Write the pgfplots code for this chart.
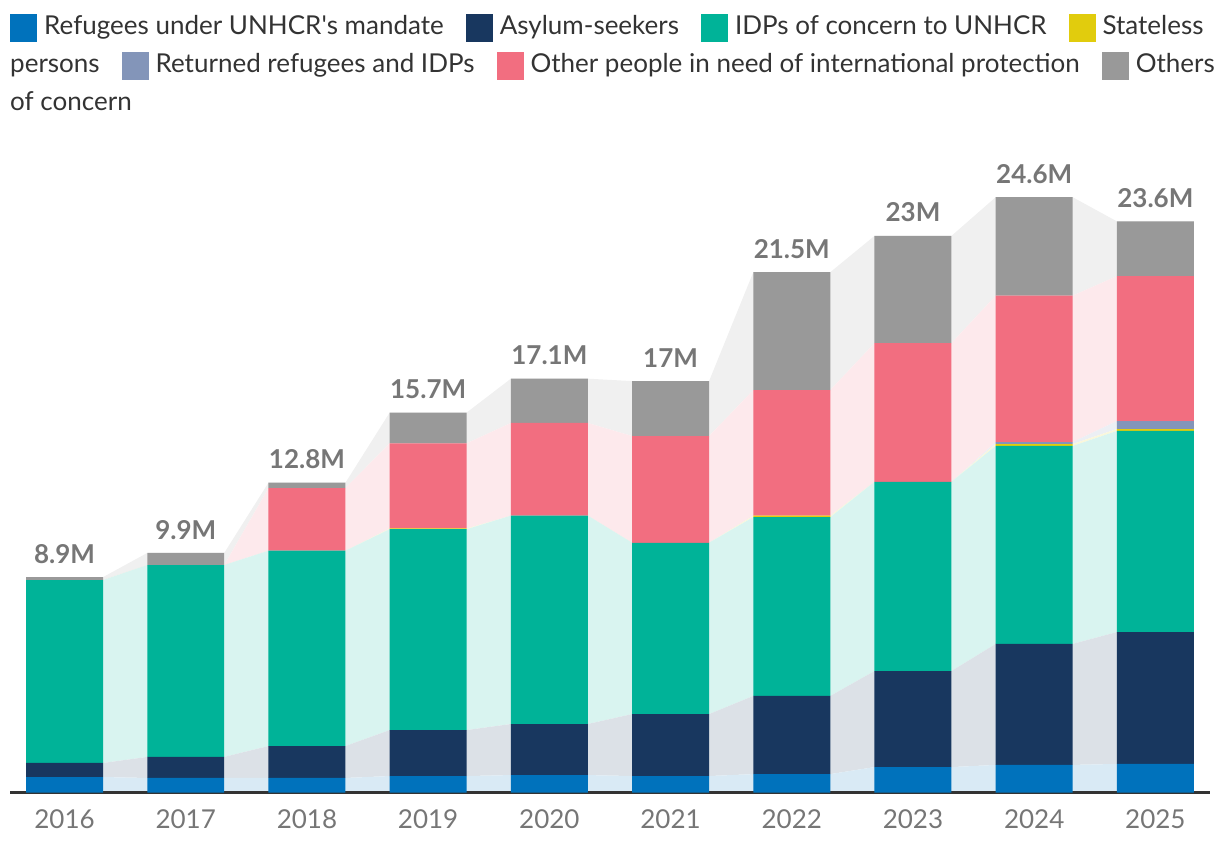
\documentclass[border=0pt]{standalone}
\usepackage{pgfplots}
\pgfplotsset{compat=1.18}
\usepackage{pgfplotstable}
\usepackage{fontspec}
\setmainfont{Lato}

\definecolor{cref}{HTML}{0072BC}
\definecolor{casy}{HTML}{18375F}
\definecolor{cidp}{HTML}{00B398}
\definecolor{csta}{HTML}{E1CC0D}
\definecolor{cret}{HTML}{8395B9}
\definecolor{cpip}{HTML}{F26E80}
\definecolor{coth}{HTML}{999999}
\definecolor{ctxt}{HTML}{333333}
\definecolor{clab}{HTML}{767676}

% one row per year (bars)
\pgfplotstableread{
x ref  asy  idp  sta  ret  pip  oth  tot  lab
0 0.64 0.58 7.56 0    0    0    0.12 8.9  8.9M
1 0.60 0.87 7.93 0    0    0    0.50 9.9  9.9M
2 0.60 1.32 8.07 0    0    2.59 0.22 12.8 12.8M
3 0.68 1.90 8.30 0.03 0    3.52 1.27 15.7 15.7M
4 0.72 2.11 8.61 0    0    3.83 1.83 17.1 17.1M
5 0.68 2.56 7.08 0    0    4.41 2.27 17.0 17M
6 0.76 3.23 7.39 0.06 0    5.19 4.87 21.5 21.5M
7 1.05 3.97 7.82 0    0    5.73 4.43 23.0 23M
8 1.14 5.00 8.18 0.08 0.08 6.05 4.07 24.6 24.6M
9 1.18 5.45 8.31 0.08 0.33 5.99 2.26 23.6 23.6M
}\bars

% the same values at the left and right edge of each bar (flows between bars)
\pgfplotstableread{
x       ref  asy  idp  sta  ret  pip  oth
-0.3175 0.64 0.58 7.56 0    0    0    0.12
0.3175  0.64 0.58 7.56 0    0    0    0.12
0.6825  0.60 0.87 7.93 0    0    0    0.50
1.3175  0.60 0.87 7.93 0    0    0    0.50
1.6825  0.60 1.32 8.07 0    0    2.59 0.22
2.3175  0.60 1.32 8.07 0    0    2.59 0.22
2.6825  0.68 1.90 8.30 0.03 0    3.52 1.27
3.3175  0.68 1.90 8.30 0.03 0    3.52 1.27
3.6825  0.72 2.11 8.61 0    0    3.83 1.83
4.3175  0.72 2.11 8.61 0    0    3.83 1.83
4.6825  0.68 2.56 7.08 0    0    4.41 2.27
5.3175  0.68 2.56 7.08 0    0    4.41 2.27
5.6825  0.76 3.23 7.39 0.06 0    5.19 4.87
6.3175  0.76 3.23 7.39 0.06 0    5.19 4.87
6.6825  1.05 3.97 7.82 0    0    5.73 4.43
7.3175  1.05 3.97 7.82 0    0    5.73 4.43
7.6825  1.14 5.00 8.18 0.08 0.08 6.05 4.07
8.3175  1.14 5.00 8.18 0.08 0.08 6.05 4.07
8.6825  1.18 5.45 8.31 0.08 0.33 5.99 2.26
9.3175  1.18 5.45 8.31 0.08 0.33 5.99 2.26
}\flows

\pgfplotsset{
  base/.style={
    scale only axis, width=1200bp, height=629.2bp,
    xmin=-0.45, xmax=9.45, ymin=0, ymax=26,
    at={(10bp,59.5bp)}, anchor=south west,
  },
}

\newcommand\entry[2]{{\color{#1}\rule[-7.5bp]{27bp}{27.5bp}}\hspace{7bp}#2}

\begin{document}
\begin{tikzpicture}
\useasboundingbox (0,0) rectangle (1220bp,852bp);

% flows
\begin{axis}[base, axis lines=none, stack plots=y, xtick=\empty, ytick=\empty]
\addplot[draw=none, fill=cref!15] table[x=x, y=ref]{\flows} \closedcycle;
\addplot[draw=none, fill=casy!15] table[x=x, y=asy]{\flows} \closedcycle;
\addplot[draw=none, fill=cidp!15] table[x=x, y=idp]{\flows} \closedcycle;
\addplot[draw=none, fill=csta!15] table[x=x, y=sta]{\flows} \closedcycle;
\addplot[draw=none, fill=cret!15] table[x=x, y=ret]{\flows} \closedcycle;
\addplot[draw=none, fill=cpip!15] table[x=x, y=pip]{\flows} \closedcycle;
\addplot[draw=none, fill=coth!15] table[x=x, y=oth]{\flows} \closedcycle;
\end{axis}

% bars
\begin{axis}[base, ybar stacked, bar width=0.635,
  axis x line*=bottom, axis y line=none,
  x axis line style={draw=ctxt, line width=2bp, -},
  xtick={0,...,9},
  xticklabels={2016,2017,2018,2019,2020,2021,2022,2023,2024,2025},
  major tick length=0pt,
  xticklabel style={font=\fontsize{26bp}{26bp}\selectfont, text=clab, inner sep=0pt, anchor=base, yshift=-35.5bp},
  ytick=\empty]
\addplot[draw=none, fill=cref] table[x=x, y=ref]{\bars};
\addplot[draw=none, fill=casy] table[x=x, y=asy]{\bars};
\addplot[draw=none, fill=cidp] table[x=x, y=idp]{\bars};
\addplot[draw=none, fill=csta] table[x=x, y=sta]{\bars};
\addplot[draw=none, fill=cret] table[x=x, y=ret]{\bars};
\addplot[draw=none, fill=cpip] table[x=x, y=pip]{\bars};
\addplot[draw=none, fill=coth] table[x=x, y=oth]{\bars};
\end{axis}

% totals above the bars
\begin{axis}[base, axis lines=none, xtick=\empty, ytick=\empty]
\addplot[only marks, mark=none, nodes near coords, point meta=explicit symbolic,
  nodes near coords style={anchor=south, inner sep=0pt, yshift=13.5bp, text=clab,
    font=\fontsize{26bp}{26bp}\selectfont\bfseries}]
  table[x=x, y=tot, meta=lab]{\bars};
\end{axis}

% legend
\node[anchor=north west, inner sep=0pt, align=left, text=ctxt,
  font=\fontsize{26bp}{38bp}\selectfont] at (10bp,838bp) {%
\entry{cref}{Refugees under UNHCR\textquotesingle s mandate}\hspace{22bp}%
\entry{casy}{Asylum-seekers}\hspace{22bp}%
\entry{cidp}{IDPs of concern to UNHCR}\hspace{22bp}%
\entry{csta}{Stateless}\\
persons\hspace{22bp}%
\entry{cret}{Returned refugees and IDPs}\hspace{22bp}%
\entry{cpip}{Other people in need of international protection}\hspace{22bp}%
\entry{coth}{Others}\\
of concern};
\end{tikzpicture}
\end{document}
